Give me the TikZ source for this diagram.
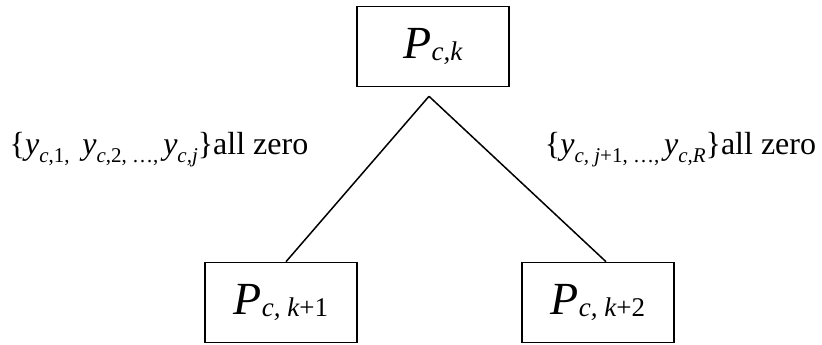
\documentclass[tikz,border=0pt]{standalone}
\usepackage{fontspec}
\setmainfont{Liberation Serif}
\newcommand\PSub[1]{\raisebox{-0.22em}{\fontsize{27}{30}\selectfont #1}}
\newcommand\LSub[1]{\raisebox{-0.25em}{\fontsize{21}{23}\selectfont #1}}
\newcommand\BigP{{\fontsize{46}{50}\selectfont\itshape P}}
\begin{document}
\begin{tikzpicture}[x=1pt,y=-1pt,
  box/.style={draw, line width=1.6pt, minimum width=152pt, minimum height=80pt, inner sep=0pt},
  edge/.style={line width=1.5pt},
  lbl/.style={inner sep=0pt, font=\fontsize{32}{35}\selectfont}]
\useasboundingbox (0,0) rectangle (822,345);
\node[box] (top) at (433,46.5) {\BigP\PSub{\itshape c,k}};
\node[box] (b1) at (281,302.5) {\BigP\PSub{\itshape c, k\upshape+1}};
\node[box] (b2) at (598,302.5) {\BigP\PSub{\itshape c, k\upshape+2}};
\coordinate (apex) at ([xshift=-4pt,yshift=-9pt]top.south);
\draw[edge] (apex) -- ([xshift=5pt]b1.north);
\draw[edge] (apex) -- ([xshift=8pt]b2.north);
\node[lbl] (l1) at (159,150) {\{\textit{y}\LSub{\textit{c},1,}\hspace{0.4em}\textit{y}\LSub{\textit{c},2, \dots,}\hspace{0.15em}\textit{y}\LSub{\textit{c,j}}\}all zero};
\node[lbl] (l2) at (680.5,150) {\{\textit{y}\LSub{\textit{c, j}+1, \dots,}\hspace{0.15em}\textit{y}\LSub{\textit{c,R}}\}all zero};
\end{tikzpicture}
\end{document}
